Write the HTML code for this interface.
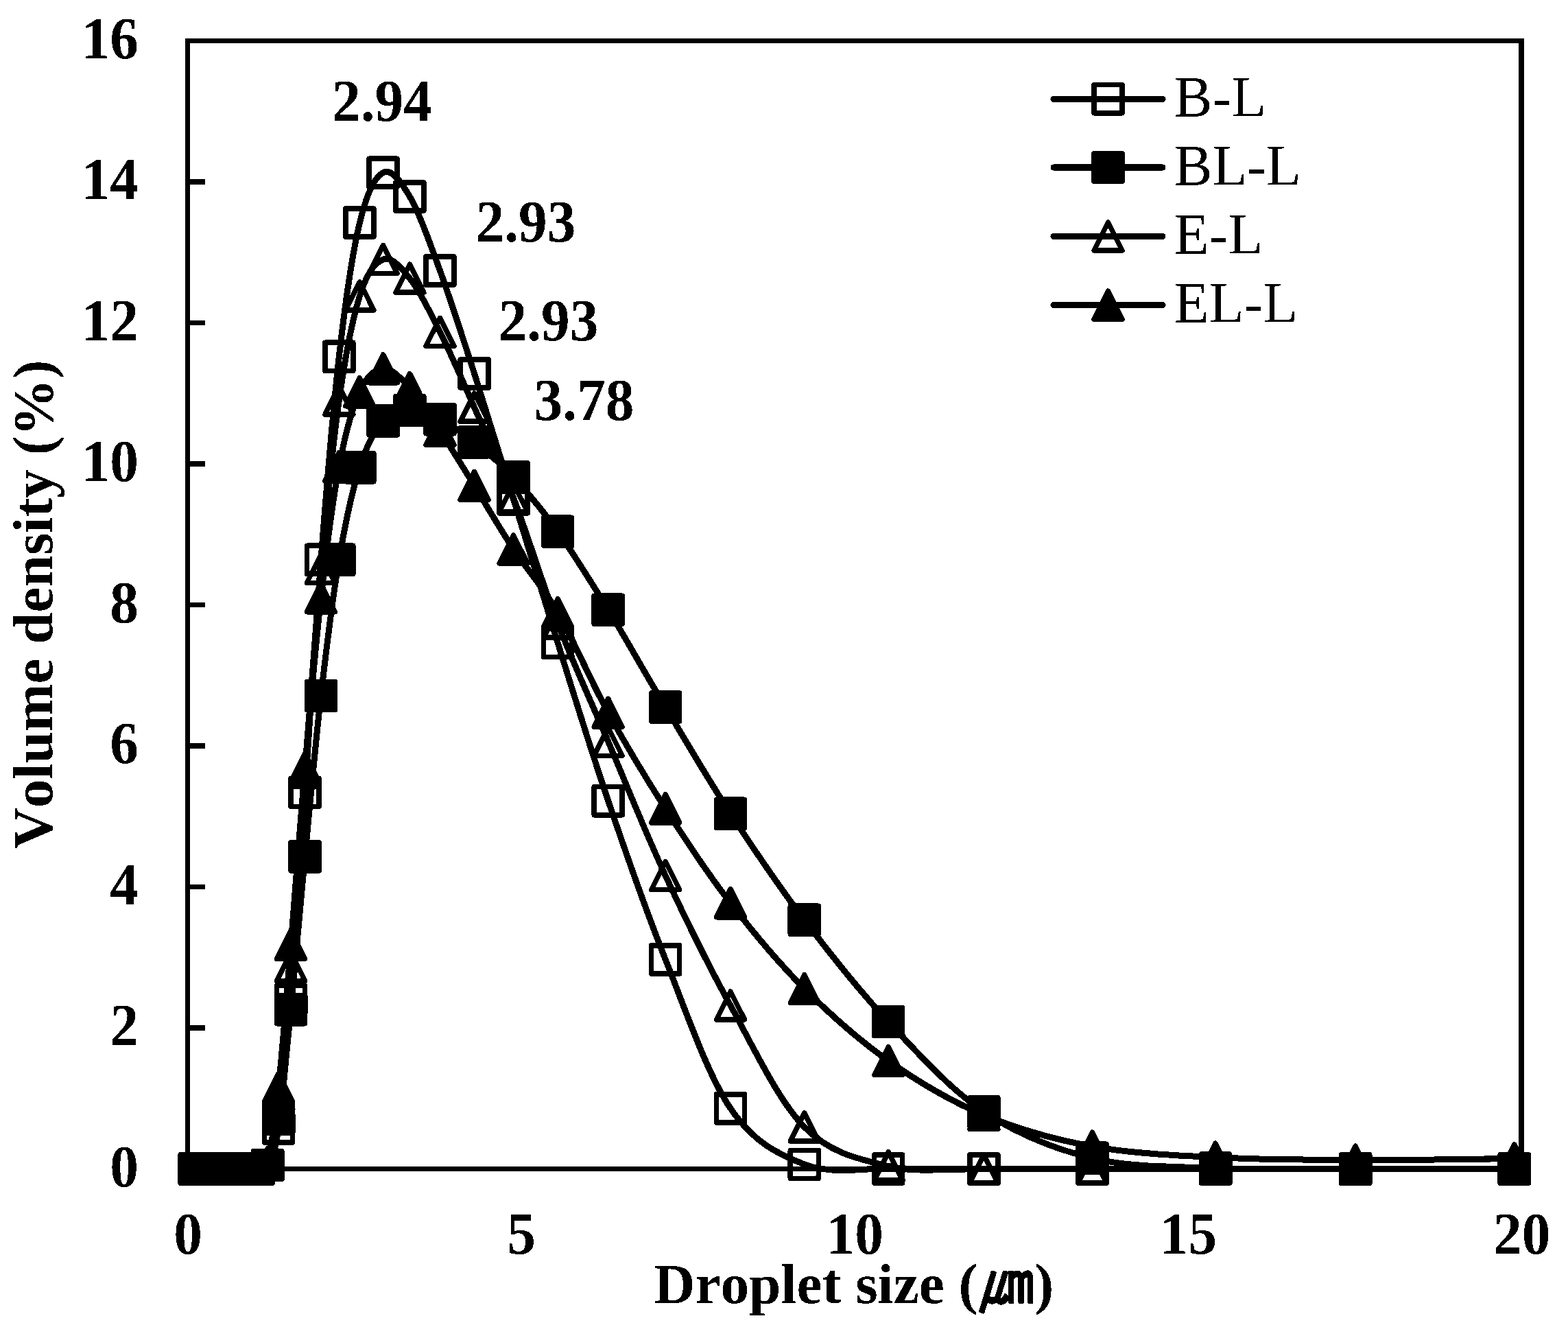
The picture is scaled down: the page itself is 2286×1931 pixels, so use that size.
<!DOCTYPE html>
<html lang="en"><head><meta charset="utf-8"><title>Droplet size distribution</title>
<style>html,body{margin:0;padding:0;background:#fff;overflow:hidden}svg{display:block}</style></head>
<body>
<svg width="2286" height="1931" viewBox="0 0 2286 1931" role="img" aria-label="Droplet size distribution chart">
<defs><filter id="bin" filterUnits="userSpaceOnUse" x="0" y="0" width="2286" height="1931" color-interpolation-filters="sRGB"><feComponentTransfer><feFuncR type="discrete" tableValues="0 1"/><feFuncG type="discrete" tableValues="0 1"/><feFuncB type="discrete" tableValues="0 1"/></feComponentTransfer></filter></defs>
<g filter="url(#bin)">
<rect width="2286" height="1931" fill="#fff"/>
<g fill="none" stroke="#000" stroke-width="7.4" shape-rendering="crispEdges">
<rect x="273.5" y="59.5" width="1944.7" height="1644.0"/>
<path d="M273.5 1498.0 H298.5"/>
<path d="M273.5 1292.5 H298.5"/>
<path d="M273.5 1087.0 H298.5"/>
<path d="M273.5 881.5 H298.5"/>
<path d="M273.5 676.0 H298.5"/>
<path d="M273.5 470.5 H298.5"/>
<path d="M273.5 265.0 H298.5"/>
</g>
<g stroke="#000" stroke-linejoin="round" stroke-linecap="round">
<path d="M283.8 1703.5C284.0 1703.5 284.7 1703.5 285.2 1703.5C285.7 1703.5 286.2 1703.5 286.8 1703.5C287.4 1703.5 288.0 1703.5 288.6 1703.5C289.3 1703.5 290.0 1703.5 290.7 1703.5C291.4 1703.5 292.2 1703.5 293.0 1703.5C293.9 1703.5 294.7 1703.5 295.7 1703.5C296.6 1703.5 297.6 1703.5 298.7 1703.5C299.8 1703.5 300.9 1703.5 302.1 1703.5C303.4 1703.5 304.7 1703.5 306.0 1703.5C307.4 1703.5 308.9 1703.5 310.5 1703.5C312.1 1703.5 313.7 1703.5 315.5 1703.5C317.3 1703.5 319.2 1703.5 321.2 1703.5C323.3 1703.5 325.4 1703.5 327.7 1703.5C330.0 1703.5 332.5 1703.5 335.1 1703.5C337.7 1703.5 340.5 1703.5 343.5 1703.5C346.5 1703.5 349.6 1703.5 353.0 1703.5C356.4 1703.5 360.0 1703.5 363.9 1703.5C367.7 1703.5 371.8 1704.4 376.2 1703.5C380.5 1702.6 385.2 1707.8 390.1 1698.0C395.1 1688.1 400.4 1684.7 406.0 1644.5C411.7 1604.3 417.6 1538.5 424.1 1456.9C430.5 1375.3 437.3 1261.7 444.6 1154.8C451.9 1048.0 459.6 921.6 467.9 815.7C476.2 709.9 484.9 601.7 494.3 519.8C503.7 438.0 513.7 369.3 524.4 324.6C535.1 279.9 546.4 258.0 558.6 251.6C570.7 245.3 583.6 262.8 597.4 286.6C611.2 310.4 625.8 351.5 641.5 394.5C657.2 437.4 673.7 489.0 691.6 544.5C709.4 600.0 728.2 662.0 748.5 727.4C768.8 792.8 790.2 863.7 813.2 937.0C836.2 1010.3 860.5 1090.3 886.7 1167.1C912.8 1244.0 940.4 1323.6 970.2 1398.3C999.9 1473.0 1031.2 1565.6 1065.0 1615.3C1098.8 1665.1 1134.4 1682.2 1172.8 1696.9C1211.2 1711.6 1251.6 1702.4 1295.2 1703.5C1338.8 1704.6 1384.8 1703.5 1434.4 1703.5C1483.9 1703.5 1536.2 1703.5 1592.4 1703.5C1648.7 1703.5 1708.1 1703.5 1772.0 1703.5C1836.0 1703.5 1903.4 1703.5 1976.1 1703.5C2048.7 1703.5 2169.2 1703.5 2207.9 1703.5" fill="none" stroke-width="9.0"/>
<g stroke-width="7.4">
<rect x="263.3" y="1683.0" width="41.1" height="41.1" fill="none"/>
<rect x="264.7" y="1683.0" width="41.1" height="41.1" fill="none"/>
<rect x="266.3" y="1683.0" width="41.1" height="41.1" fill="none"/>
<rect x="268.1" y="1683.0" width="41.1" height="41.1" fill="none"/>
<rect x="270.1" y="1683.0" width="41.1" height="41.1" fill="none"/>
<rect x="272.5" y="1683.0" width="41.1" height="41.1" fill="none"/>
<rect x="275.1" y="1683.0" width="41.1" height="41.1" fill="none"/>
<rect x="278.2" y="1683.0" width="41.1" height="41.1" fill="none"/>
<rect x="281.6" y="1683.0" width="41.1" height="41.1" fill="none"/>
<rect x="285.5" y="1683.0" width="41.1" height="41.1" fill="none"/>
<rect x="289.9" y="1683.0" width="41.1" height="41.1" fill="none"/>
<rect x="295.0" y="1683.0" width="41.1" height="41.1" fill="none"/>
<rect x="300.7" y="1683.0" width="41.1" height="41.1" fill="none"/>
<rect x="307.2" y="1683.0" width="41.1" height="41.1" fill="none"/>
<rect x="314.6" y="1683.0" width="41.1" height="41.1" fill="none"/>
<rect x="322.9" y="1683.0" width="41.1" height="41.1" fill="none"/>
<rect x="332.5" y="1683.0" width="41.1" height="41.1" fill="none"/>
<rect x="343.3" y="1683.0" width="41.1" height="41.1" fill="none"/>
<rect x="355.6" y="1683.0" width="41.1" height="41.1" fill="none"/>
<rect x="369.6" y="1677.4" width="41.1" height="41.1" fill="none"/>
<rect x="385.5" y="1624.0" width="41.1" height="41.1" fill="none"/>
<rect x="403.5" y="1436.4" width="41.1" height="41.1" fill="none"/>
<rect x="424.0" y="1134.3" width="41.1" height="41.1" fill="none"/>
<rect x="447.3" y="795.2" width="41.1" height="41.1" fill="none"/>
<rect x="473.8" y="499.3" width="41.1" height="41.1" fill="none"/>
<rect x="503.8" y="304.0" width="41.1" height="41.1" fill="none"/>
<rect x="538.0" y="231.1" width="41.1" height="41.1" fill="none"/>
<rect x="576.8" y="266.0" width="41.1" height="41.1" fill="none"/>
<rect x="620.9" y="373.9" width="41.1" height="41.1" fill="none"/>
<rect x="671.0" y="523.9" width="41.1" height="41.1" fill="none"/>
<rect x="728.0" y="706.8" width="41.1" height="41.1" fill="none"/>
<rect x="792.6" y="916.4" width="41.1" height="41.1" fill="none"/>
<rect x="866.1" y="1146.6" width="41.1" height="41.1" fill="none"/>
<rect x="949.6" y="1377.8" width="41.1" height="41.1" fill="none"/>
<rect x="1044.5" y="1594.8" width="41.1" height="41.1" fill="none"/>
<rect x="1152.2" y="1676.4" width="41.1" height="41.1" fill="none"/>
<rect x="1274.7" y="1683.0" width="41.1" height="41.1" fill="none"/>
<rect x="1413.8" y="1683.0" width="41.1" height="41.1" fill="none"/>
<rect x="1571.9" y="1683.0" width="41.1" height="41.1" fill="none"/>
<rect x="1751.5" y="1683.0" width="41.1" height="41.1" fill="none"/>
<rect x="1955.5" y="1683.0" width="41.1" height="41.1" fill="none"/>
<rect x="2187.3" y="1683.0" width="41.1" height="41.1" fill="none"/>
</g></g>
<g stroke="#000" stroke-linejoin="round" stroke-linecap="round">
<path d="M283.8 1703.5C284.0 1703.5 284.7 1703.5 285.2 1703.5C285.7 1703.5 286.2 1703.5 286.8 1703.5C287.4 1703.5 288.0 1703.5 288.6 1703.5C289.3 1703.5 290.0 1703.5 290.7 1703.5C291.4 1703.5 292.2 1703.5 293.0 1703.5C293.9 1703.5 294.7 1703.5 295.7 1703.5C296.6 1703.5 297.6 1703.5 298.7 1703.5C299.8 1703.5 300.9 1703.5 302.1 1703.5C303.4 1703.5 304.7 1703.5 306.0 1703.5C307.4 1703.5 308.9 1703.5 310.5 1703.5C312.1 1703.5 313.7 1703.5 315.5 1703.5C317.3 1703.5 319.2 1703.5 321.2 1703.5C323.3 1703.5 325.4 1703.5 327.7 1703.5C330.0 1703.5 332.5 1703.5 335.1 1703.5C337.7 1703.5 340.5 1703.5 343.5 1703.5C346.5 1703.5 349.6 1703.5 353.0 1703.5C356.4 1703.5 360.0 1703.5 363.9 1703.5C367.7 1703.5 371.8 1704.4 376.2 1703.5C380.5 1702.6 385.2 1710.1 390.1 1698.0C395.1 1685.8 400.4 1668.3 406.0 1630.5C411.7 1592.8 417.6 1535.0 424.1 1471.3C430.5 1407.6 437.3 1324.5 444.6 1248.3C451.9 1172.1 459.6 1086.1 467.9 1014.0C476.2 942.0 484.9 871.2 494.3 815.7C503.7 760.3 513.7 714.9 524.4 681.1C535.1 647.4 546.4 627.2 558.6 613.3C570.7 599.5 583.6 598.3 597.4 597.9C611.2 597.6 625.8 603.6 641.5 611.3C657.2 619.0 673.7 630.1 691.6 644.1C709.4 658.2 728.2 673.8 748.5 695.5C768.8 717.3 790.2 742.4 813.2 774.6C836.2 806.8 860.5 846.1 886.7 888.7C912.8 931.3 940.4 981.0 970.2 1030.5C999.9 1080.0 1031.2 1133.9 1065.0 1185.6C1098.8 1237.4 1134.4 1290.2 1172.8 1340.8C1211.2 1391.4 1251.6 1442.5 1295.2 1489.1C1338.8 1535.6 1384.8 1587.2 1434.4 1620.3C1483.9 1653.4 1536.2 1674.1 1592.4 1687.8C1648.7 1701.5 1708.1 1699.9 1772.0 1702.5C1836.0 1705.1 1903.4 1703.3 1976.1 1703.5C2048.7 1703.7 2169.2 1703.5 2207.9 1703.5" fill="none" stroke-width="9.0"/>
<g stroke-width="7.4">
<rect x="263.3" y="1683.0" width="41.1" height="41.1" fill="#000"/>
<rect x="264.7" y="1683.0" width="41.1" height="41.1" fill="#000"/>
<rect x="266.3" y="1683.0" width="41.1" height="41.1" fill="#000"/>
<rect x="268.1" y="1683.0" width="41.1" height="41.1" fill="#000"/>
<rect x="270.1" y="1683.0" width="41.1" height="41.1" fill="#000"/>
<rect x="272.5" y="1683.0" width="41.1" height="41.1" fill="#000"/>
<rect x="275.1" y="1683.0" width="41.1" height="41.1" fill="#000"/>
<rect x="278.2" y="1683.0" width="41.1" height="41.1" fill="#000"/>
<rect x="281.6" y="1683.0" width="41.1" height="41.1" fill="#000"/>
<rect x="285.5" y="1683.0" width="41.1" height="41.1" fill="#000"/>
<rect x="289.9" y="1683.0" width="41.1" height="41.1" fill="#000"/>
<rect x="295.0" y="1683.0" width="41.1" height="41.1" fill="#000"/>
<rect x="300.7" y="1683.0" width="41.1" height="41.1" fill="#000"/>
<rect x="307.2" y="1683.0" width="41.1" height="41.1" fill="#000"/>
<rect x="314.6" y="1683.0" width="41.1" height="41.1" fill="#000"/>
<rect x="322.9" y="1683.0" width="41.1" height="41.1" fill="#000"/>
<rect x="332.5" y="1683.0" width="41.1" height="41.1" fill="#000"/>
<rect x="343.3" y="1683.0" width="41.1" height="41.1" fill="#000"/>
<rect x="355.6" y="1683.0" width="41.1" height="41.1" fill="#000"/>
<rect x="369.6" y="1677.4" width="41.1" height="41.1" fill="#000"/>
<rect x="385.5" y="1610.0" width="41.1" height="41.1" fill="#000"/>
<rect x="403.5" y="1450.7" width="41.1" height="41.1" fill="#000"/>
<rect x="424.0" y="1227.8" width="41.1" height="41.1" fill="#000"/>
<rect x="447.3" y="993.5" width="41.1" height="41.1" fill="#000"/>
<rect x="473.8" y="795.2" width="41.1" height="41.1" fill="#000"/>
<rect x="503.8" y="660.6" width="41.1" height="41.1" fill="#000"/>
<rect x="538.0" y="592.8" width="41.1" height="41.1" fill="#000"/>
<rect x="576.8" y="577.4" width="41.1" height="41.1" fill="#000"/>
<rect x="620.9" y="590.7" width="41.1" height="41.1" fill="#000"/>
<rect x="671.0" y="623.6" width="41.1" height="41.1" fill="#000"/>
<rect x="728.0" y="675.0" width="41.1" height="41.1" fill="#000"/>
<rect x="792.6" y="754.1" width="41.1" height="41.1" fill="#000"/>
<rect x="866.1" y="868.1" width="41.1" height="41.1" fill="#000"/>
<rect x="949.6" y="1009.9" width="41.1" height="41.1" fill="#000"/>
<rect x="1044.5" y="1165.1" width="41.1" height="41.1" fill="#000"/>
<rect x="1152.2" y="1320.2" width="41.1" height="41.1" fill="#000"/>
<rect x="1274.7" y="1468.5" width="41.1" height="41.1" fill="#000"/>
<rect x="1413.8" y="1599.7" width="41.1" height="41.1" fill="#000"/>
<rect x="1571.9" y="1667.2" width="41.1" height="41.1" fill="#000"/>
<rect x="1751.5" y="1681.9" width="41.1" height="41.1" fill="#000"/>
<rect x="1955.5" y="1683.0" width="41.1" height="41.1" fill="#000"/>
<rect x="2187.3" y="1683.0" width="41.1" height="41.1" fill="#000"/>
</g></g>
<g stroke="#000" stroke-linejoin="round" stroke-linecap="round">
<path d="M283.8 1703.5C284.0 1703.5 284.7 1703.5 285.2 1703.5C285.7 1703.5 286.2 1703.5 286.8 1703.5C287.4 1703.5 288.0 1703.5 288.6 1703.5C289.3 1703.5 290.0 1703.5 290.7 1703.5C291.4 1703.5 292.2 1703.5 293.0 1703.5C293.9 1703.5 294.7 1703.5 295.7 1703.5C296.6 1703.5 297.6 1703.5 298.7 1703.5C299.8 1703.5 300.9 1703.5 302.1 1703.5C303.4 1703.5 304.7 1703.5 306.0 1703.5C307.4 1703.5 308.9 1703.5 310.5 1703.5C312.1 1703.5 313.7 1703.5 315.5 1703.5C317.3 1703.5 319.2 1703.5 321.2 1703.5C323.3 1703.5 325.4 1703.5 327.7 1703.5C330.0 1703.5 332.5 1703.5 335.1 1703.5C337.7 1703.5 340.5 1703.5 343.5 1703.5C346.5 1703.5 349.6 1703.5 353.0 1703.5C356.4 1703.5 360.0 1703.5 363.9 1703.5C367.7 1703.5 371.8 1704.5 376.2 1703.5C380.5 1702.5 385.2 1715.3 390.1 1697.3C395.1 1679.4 400.4 1643.7 406.0 1595.6C411.7 1547.5 417.6 1487.1 424.1 1408.8C430.5 1330.6 437.3 1222.7 444.6 1126.0C451.9 1029.4 459.6 919.5 467.9 829.1C476.2 738.7 484.9 649.8 494.3 583.5C503.7 517.3 513.7 465.7 524.4 431.5C535.1 397.2 546.4 382.3 558.6 378.0C570.7 373.7 583.6 388.1 597.4 405.8C611.2 423.4 625.8 452.5 641.5 483.9C657.2 515.2 673.7 553.6 691.6 593.8C709.4 634.0 728.2 672.8 748.5 725.3C768.8 777.8 790.2 849.5 813.2 908.7C836.2 968.0 860.5 1019.6 886.7 1080.8C912.8 1142.1 940.4 1212.0 970.2 1276.1C999.9 1340.2 1031.2 1404.4 1065.0 1465.4C1098.8 1526.5 1134.4 1603.5 1172.8 1642.5C1211.2 1681.5 1251.6 1689.2 1295.2 1699.4C1338.8 1709.6 1384.8 1702.8 1434.4 1703.5C1483.9 1704.2 1536.2 1703.5 1592.4 1703.5C1648.7 1703.5 1708.1 1703.5 1772.0 1703.5C1836.0 1703.5 1903.4 1703.5 1976.1 1703.5C2048.7 1703.5 2169.2 1703.5 2207.9 1703.5" fill="none" stroke-width="9.0"/>
<g stroke-width="7.4">
<path d="M283.8 1683.0 L304.4 1724.0 L263.3 1724.0 Z" fill="none"/>
<path d="M285.2 1683.0 L305.8 1724.0 L264.7 1724.0 Z" fill="none"/>
<path d="M286.8 1683.0 L307.4 1724.0 L266.3 1724.0 Z" fill="none"/>
<path d="M288.6 1683.0 L309.2 1724.0 L268.1 1724.0 Z" fill="none"/>
<path d="M290.7 1683.0 L311.2 1724.0 L270.1 1724.0 Z" fill="none"/>
<path d="M293.0 1683.0 L313.6 1724.0 L272.5 1724.0 Z" fill="none"/>
<path d="M295.7 1683.0 L316.2 1724.0 L275.1 1724.0 Z" fill="none"/>
<path d="M298.7 1683.0 L319.3 1724.0 L278.2 1724.0 Z" fill="none"/>
<path d="M302.1 1683.0 L322.7 1724.0 L281.6 1724.0 Z" fill="none"/>
<path d="M306.0 1683.0 L326.6 1724.0 L285.5 1724.0 Z" fill="none"/>
<path d="M310.5 1683.0 L331.0 1724.0 L289.9 1724.0 Z" fill="none"/>
<path d="M315.5 1683.0 L336.1 1724.0 L295.0 1724.0 Z" fill="none"/>
<path d="M321.2 1683.0 L341.8 1724.0 L300.7 1724.0 Z" fill="none"/>
<path d="M327.7 1683.0 L348.3 1724.0 L307.2 1724.0 Z" fill="none"/>
<path d="M335.1 1683.0 L355.7 1724.0 L314.6 1724.0 Z" fill="none"/>
<path d="M343.5 1683.0 L364.0 1724.0 L322.9 1724.0 Z" fill="none"/>
<path d="M353.0 1683.0 L373.6 1724.0 L332.5 1724.0 Z" fill="none"/>
<path d="M363.9 1683.0 L384.4 1724.0 L343.3 1724.0 Z" fill="none"/>
<path d="M376.2 1683.0 L396.7 1724.0 L355.6 1724.0 Z" fill="none"/>
<path d="M390.1 1676.8 L410.7 1717.9 L369.6 1717.9 Z" fill="none"/>
<path d="M406.0 1575.1 L426.6 1616.2 L385.5 1616.2 Z" fill="none"/>
<path d="M424.1 1388.3 L444.6 1429.4 L403.5 1429.4 Z" fill="none"/>
<path d="M444.6 1105.5 L465.1 1146.6 L424.0 1146.6 Z" fill="none"/>
<path d="M467.9 808.5 L488.4 849.6 L447.3 849.6 Z" fill="none"/>
<path d="M494.3 563.0 L514.9 604.1 L473.8 604.1 Z" fill="none"/>
<path d="M524.4 410.9 L544.9 452.0 L503.8 452.0 Z" fill="none"/>
<path d="M558.6 357.5 L579.1 398.6 L538.0 398.6 Z" fill="none"/>
<path d="M597.4 385.2 L617.9 426.3 L576.8 426.3 Z" fill="none"/>
<path d="M641.5 463.3 L662.0 504.4 L620.9 504.4 Z" fill="none"/>
<path d="M691.6 573.2 L712.1 614.3 L671.0 614.3 Z" fill="none"/>
<path d="M748.5 704.8 L769.1 745.9 L728.0 745.9 Z" fill="none"/>
<path d="M813.2 888.2 L833.7 929.3 L792.6 929.3 Z" fill="none"/>
<path d="M886.7 1060.3 L907.2 1101.4 L866.1 1101.4 Z" fill="none"/>
<path d="M970.2 1255.5 L990.7 1296.6 L949.6 1296.6 Z" fill="none"/>
<path d="M1065.0 1444.9 L1085.6 1486.0 L1044.5 1486.0 Z" fill="none"/>
<path d="M1172.8 1621.9 L1193.3 1663.0 L1152.2 1663.0 Z" fill="none"/>
<path d="M1295.2 1678.8 L1315.8 1719.9 L1274.7 1719.9 Z" fill="none"/>
<path d="M1434.4 1683.0 L1454.9 1724.0 L1413.8 1724.0 Z" fill="none"/>
<path d="M1592.4 1683.0 L1613.0 1724.0 L1571.9 1724.0 Z" fill="none"/>
<path d="M1772.0 1683.0 L1792.6 1724.0 L1751.5 1724.0 Z" fill="none"/>
<path d="M1976.1 1683.0 L1996.6 1724.0 L1955.5 1724.0 Z" fill="none"/>
<path d="M2207.9 1683.0 L2228.4 1724.0 L2187.3 1724.0 Z" fill="none"/>
</g></g>
<g stroke="#000" stroke-linejoin="round" stroke-linecap="round">
<path d="M283.8 1703.5C284.0 1703.5 284.7 1703.5 285.2 1703.5C285.7 1703.5 286.2 1703.5 286.8 1703.5C287.4 1703.5 288.0 1703.5 288.6 1703.5C289.3 1703.5 290.0 1703.5 290.7 1703.5C291.4 1703.5 292.2 1703.5 293.0 1703.5C293.9 1703.5 294.7 1703.5 295.7 1703.5C296.6 1703.5 297.6 1703.5 298.7 1703.5C299.8 1703.5 300.9 1703.5 302.1 1703.5C303.4 1703.5 304.7 1703.5 306.0 1703.5C307.4 1703.5 308.9 1703.5 310.5 1703.5C312.1 1703.5 313.7 1703.5 315.5 1703.5C317.3 1703.5 319.2 1703.5 321.2 1703.5C323.3 1703.5 325.4 1703.5 327.7 1703.5C330.0 1703.5 332.5 1703.5 335.1 1703.5C337.7 1703.5 340.5 1703.5 343.5 1703.5C346.5 1703.5 349.6 1703.5 353.0 1703.5C356.4 1703.5 360.0 1703.5 363.9 1703.5C367.7 1703.5 371.8 1705.0 376.2 1703.5C380.5 1702.0 385.2 1714.0 390.1 1694.3C395.1 1674.5 400.4 1637.9 406.0 1585.0C411.7 1532.1 417.6 1454.5 424.1 1376.8C430.5 1299.1 437.3 1203.1 444.6 1118.9C451.9 1034.6 459.6 944.3 467.9 871.2C476.2 798.1 484.9 730.1 494.3 680.1C503.7 630.1 513.7 595.0 524.4 571.2C535.1 547.4 546.4 538.3 558.6 537.3C570.7 536.3 583.6 550.0 597.4 565.0C611.2 580.1 625.8 603.9 641.5 627.7C657.2 651.5 673.7 679.1 691.6 707.9C709.4 736.6 728.2 769.5 748.5 800.3C768.8 831.2 790.2 853.1 813.2 892.8C836.2 932.5 860.5 991.1 886.7 1038.7C912.8 1086.3 940.4 1132.2 970.2 1178.4C999.9 1224.7 1031.2 1272.4 1065.0 1316.1C1098.8 1359.9 1134.4 1402.7 1172.8 1441.0C1211.2 1479.3 1251.6 1515.3 1295.2 1546.0C1338.8 1576.7 1384.8 1604.2 1434.4 1625.0C1483.9 1645.8 1536.2 1660.3 1592.4 1670.6C1648.7 1680.9 1708.1 1683.4 1772.0 1686.8C1836.0 1690.1 1903.4 1690.4 1976.1 1690.7C2048.7 1690.9 2169.2 1688.8 2207.9 1688.4" fill="none" stroke-width="9.0"/>
<g stroke-width="7.4">
<path d="M283.8 1683.0 L304.4 1724.0 L263.3 1724.0 Z" fill="#000"/>
<path d="M285.2 1683.0 L305.8 1724.0 L264.7 1724.0 Z" fill="#000"/>
<path d="M286.8 1683.0 L307.4 1724.0 L266.3 1724.0 Z" fill="#000"/>
<path d="M288.6 1683.0 L309.2 1724.0 L268.1 1724.0 Z" fill="#000"/>
<path d="M290.7 1683.0 L311.2 1724.0 L270.1 1724.0 Z" fill="#000"/>
<path d="M293.0 1683.0 L313.6 1724.0 L272.5 1724.0 Z" fill="#000"/>
<path d="M295.7 1683.0 L316.2 1724.0 L275.1 1724.0 Z" fill="#000"/>
<path d="M298.7 1683.0 L319.3 1724.0 L278.2 1724.0 Z" fill="#000"/>
<path d="M302.1 1683.0 L322.7 1724.0 L281.6 1724.0 Z" fill="#000"/>
<path d="M306.0 1683.0 L326.6 1724.0 L285.5 1724.0 Z" fill="#000"/>
<path d="M310.5 1683.0 L331.0 1724.0 L289.9 1724.0 Z" fill="#000"/>
<path d="M315.5 1683.0 L336.1 1724.0 L295.0 1724.0 Z" fill="#000"/>
<path d="M321.2 1683.0 L341.8 1724.0 L300.7 1724.0 Z" fill="#000"/>
<path d="M327.7 1683.0 L348.3 1724.0 L307.2 1724.0 Z" fill="#000"/>
<path d="M335.1 1683.0 L355.7 1724.0 L314.6 1724.0 Z" fill="#000"/>
<path d="M343.5 1683.0 L364.0 1724.0 L322.9 1724.0 Z" fill="#000"/>
<path d="M353.0 1683.0 L373.6 1724.0 L332.5 1724.0 Z" fill="#000"/>
<path d="M363.9 1683.0 L384.4 1724.0 L343.3 1724.0 Z" fill="#000"/>
<path d="M376.2 1683.0 L396.7 1724.0 L355.6 1724.0 Z" fill="#000"/>
<path d="M390.1 1673.7 L410.7 1714.8 L369.6 1714.8 Z" fill="#000"/>
<path d="M406.0 1564.5 L426.6 1605.6 L385.5 1605.6 Z" fill="#000"/>
<path d="M424.1 1356.2 L444.6 1397.3 L403.5 1397.3 Z" fill="#000"/>
<path d="M444.6 1098.3 L465.1 1139.4 L424.0 1139.4 Z" fill="#000"/>
<path d="M467.9 850.7 L488.4 891.8 L447.3 891.8 Z" fill="#000"/>
<path d="M494.3 659.6 L514.9 700.7 L473.8 700.7 Z" fill="#000"/>
<path d="M524.4 550.6 L544.9 591.7 L503.8 591.7 Z" fill="#000"/>
<path d="M558.6 516.7 L579.1 557.8 L538.0 557.8 Z" fill="#000"/>
<path d="M597.4 544.5 L617.9 585.6 L576.8 585.6 Z" fill="#000"/>
<path d="M641.5 607.2 L662.0 648.3 L620.9 648.3 Z" fill="#000"/>
<path d="M691.6 687.3 L712.1 728.4 L671.0 728.4 Z" fill="#000"/>
<path d="M748.5 779.8 L769.1 820.9 L728.0 820.9 Z" fill="#000"/>
<path d="M813.2 872.3 L833.7 913.4 L792.6 913.4 Z" fill="#000"/>
<path d="M886.7 1018.2 L907.2 1059.3 L866.1 1059.3 Z" fill="#000"/>
<path d="M970.2 1157.9 L990.7 1199.0 L949.6 1199.0 Z" fill="#000"/>
<path d="M1065.0 1295.6 L1085.6 1336.7 L1044.5 1336.7 Z" fill="#000"/>
<path d="M1172.8 1420.4 L1193.3 1461.5 L1152.2 1461.5 Z" fill="#000"/>
<path d="M1295.2 1525.4 L1315.8 1566.5 L1274.7 1566.5 Z" fill="#000"/>
<path d="M1434.4 1604.4 L1454.9 1645.5 L1413.8 1645.5 Z" fill="#000"/>
<path d="M1592.4 1650.1 L1613.0 1691.2 L1571.9 1691.2 Z" fill="#000"/>
<path d="M1772.0 1666.2 L1792.6 1707.3 L1751.5 1707.3 Z" fill="#000"/>
<path d="M1976.1 1670.1 L1996.6 1711.2 L1955.5 1711.2 Z" fill="#000"/>
<path d="M2207.9 1667.8 L2228.4 1708.9 L2187.3 1708.9 Z" fill="#000"/>
</g></g>
<g stroke="#000" stroke-linejoin="round" stroke-linecap="round">
<path d="M1536.0 144.2 H1695.0" fill="none" stroke-width="9.0"/>
<g stroke-width="7.4"><rect x="1595.0" y="123.6" width="41.1" height="41.1" fill="none"/></g>
</g>
<g stroke="#000" stroke-linejoin="round" stroke-linecap="round">
<path d="M1536.0 244.0 H1695.0" fill="none" stroke-width="9.0"/>
<g stroke-width="7.4"><rect x="1595.0" y="223.4" width="41.1" height="41.1" fill="#000"/></g>
</g>
<g stroke="#000" stroke-linejoin="round" stroke-linecap="round">
<path d="M1536.0 344.4 H1695.0" fill="none" stroke-width="9.0"/>
<g stroke-width="7.4"><path d="M1615.5 323.8 L1636.0 364.9 L1595.0 364.9 Z" fill="none"/></g>
</g>
<g stroke="#000" stroke-linejoin="round" stroke-linecap="round">
<path d="M1536.0 444.6 H1695.0" fill="none" stroke-width="9.0"/>
<g stroke-width="7.4"><path d="M1615.5 424.1 L1636.0 465.2 L1595.0 465.2 Z" fill="#000"/></g>
</g>
<g font-family="'Liberation Serif', 'Noto Serif CJK SC', serif" font-size="83.33px" fill="#000" style="font-kerning:none">
<text transform="translate(1711.8 170.0) scale(1 1.012)" text-anchor="start">B-L</text>
<text transform="translate(1711.8 269.8) scale(1 1.012)" text-anchor="start">BL-L</text>
<text transform="translate(1711.8 370.2) scale(1 1.012)" text-anchor="start">E-L</text>
<text transform="translate(1711.8 470.4) scale(1 1.012)" text-anchor="start">EL-L</text>
<g font-weight="bold">
<text transform="translate(202.0 1728.7) scale(1 1.040)" text-anchor="end">0</text>
<text transform="translate(202.0 1523.2) scale(1 1.040)" text-anchor="end">2</text>
<text transform="translate(202.0 1317.7) scale(1 1.040)" text-anchor="end">4</text>
<text transform="translate(202.0 1112.2) scale(1 1.040)" text-anchor="end">6</text>
<text transform="translate(202.0 906.7) scale(1 1.040)" text-anchor="end">8</text>
<text transform="translate(202.0 701.2) scale(1 1.040)" text-anchor="end">10</text>
<text transform="translate(202.0 495.7) scale(1 1.040)" text-anchor="end">12</text>
<text transform="translate(202.0 290.2) scale(1 1.040)" text-anchor="end">14</text>
<text transform="translate(202.0 84.7) scale(1 1.040)" text-anchor="end">16</text>
<text transform="translate(274.0 1827.0) scale(1 1.040)" text-anchor="middle">0</text>
<text transform="translate(760.2 1827.0) scale(1 1.040)" text-anchor="middle">5</text>
<text transform="translate(1246.3 1827.0) scale(1 1.040)" text-anchor="middle">10</text>
<text transform="translate(1732.5 1827.0) scale(1 1.040)" text-anchor="middle">15</text>
<text transform="translate(2218.7 1827.0) scale(1 1.040)" text-anchor="middle">20</text>
<text transform="translate(484.0 175.5) scale(1 1.040)" text-anchor="start">2.94</text>
<text transform="translate(693.5 352.3) scale(1 1.040)" text-anchor="start">2.93</text>
<text transform="translate(726.5 496.3) scale(1 1.040)" text-anchor="start">2.93</text>
<text transform="translate(778.5 611.7) scale(1 1.040)" text-anchor="start">3.78</text>
<text transform="translate(1425.3 1898.6) scale(1 1.000)" text-anchor="end">Droplet size (</text>
<text transform="translate(1425.3 1897.6) scale(1 1.260)" font-family="'WenQuanYi Zen Hei', 'Noto Sans CJK KR', sans-serif" font-weight="normal" stroke="#000" stroke-width="3.4" stroke-linejoin="round">㎛</text>
<text transform="translate(1508.6 1898.6) scale(1 1.000)" text-anchor="start">)</text>
<text transform="translate(76.3 880.9) rotate(-90) scale(1 1.000)" text-anchor="middle">Volume density (%)</text>
</g></g>
</g>
</svg>
</body></html>
